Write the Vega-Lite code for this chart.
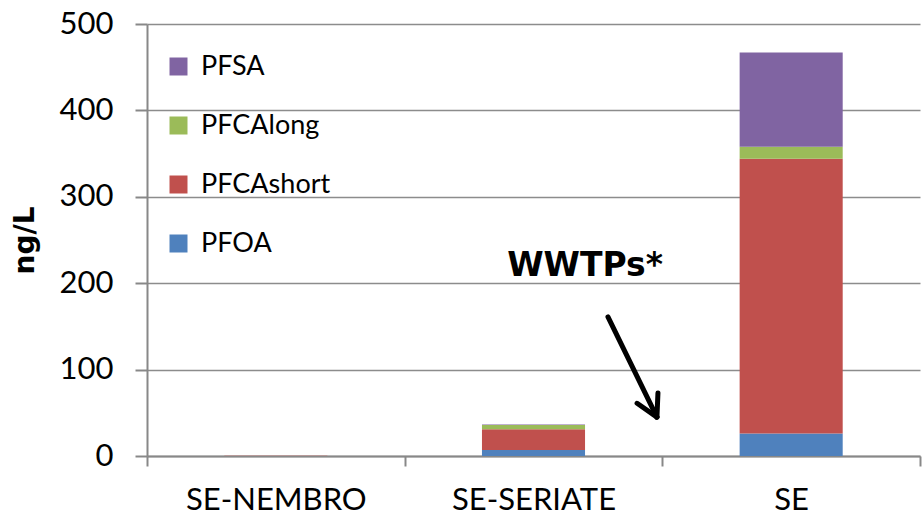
{
  "$schema": "https://vega.github.io/schema/vega-lite/v6.json",
  "width": 773,
  "height": 432,
  "autosize": "none",
  "padding": {"left": 147, "top": 24, "right": 2, "bottom": 65},
  "background": "white",
  "config": {"view": {"stroke": null}},
  "layer": [
    {
      "data": {
        "values": [
          {"site": "SE-NEMBRO", "group": "PFOA", "value": 0.1},
          {"site": "SE-NEMBRO", "group": "PFCAshort", "value": 0.1},
          {"site": "SE-NEMBRO", "group": "PFCAlong", "value": 0},
          {"site": "SE-NEMBRO", "group": "PFSA", "value": 0},
          {"site": "SE-SERIATE", "group": "PFOA", "value": 7},
          {"site": "SE-SERIATE", "group": "PFCAshort", "value": 24},
          {"site": "SE-SERIATE", "group": "PFCAlong", "value": 5},
          {"site": "SE-SERIATE", "group": "PFSA", "value": 0.5},
          {"site": "SE", "group": "PFOA", "value": 26},
          {"site": "SE", "group": "PFCAshort", "value": 318},
          {"site": "SE", "group": "PFCAlong", "value": 14},
          {"site": "SE", "group": "PFSA", "value": 109}
        ]
      },
      "transform": [
        {"calculate": "indexof(['PFOA','PFCAshort','PFCAlong','PFSA'], datum.group)", "as": "stackRank"}
      ],
      "mark": {"type": "bar", "width": {"band": 0.4}},
      "encoding": {
        "x": {
          "field": "site",
          "type": "nominal",
          "sort": null,
          "scale": {"paddingInner": 0, "paddingOuter": 0},
          "axis": {
            "title": null,
            "labelAngle": 0,
            "labelFont": "Lato",
            "labelFontSize": 31,
            "labelColor": "black",
            "labelPadding": 19,
            "labelLimit": 0,
            "tickBand": "extent",
            "tickSize": 10,
            "tickColor": "#888888",
            "tickWidth": 2,
            "domainColor": "#888888",
            "domainWidth": 2,
            "grid": false
          }
        },
        "y": {
          "field": "value",
          "type": "quantitative",
          "stack": "zero",
          "scale": {"domain": [0, 500], "nice": false},
          "axis": {
            "title": "ng/L",
            "titleFont": "DejaVu Sans",
            "titleFontWeight": "bold",
            "titleFontSize": 28,
            "titleColor": "black",
            "titleX": -108,
            "titleY": 216,
            "titleAngle": 270,
            "values": [0, 100, 200, 300, 400, 500],
            "labelFont": "Lato",
            "labelFontSize": 31,
            "labelColor": "black",
            "labelPadding": 22,
            "tickSize": 12,
            "tickColor": "#888888",
            "tickWidth": 2,
            "domainColor": "#888888",
            "domainWidth": 2,
            "grid": true,
            "gridColor": "#8c8c8c",
            "gridWidth": 1.5
          }
        },
        "color": {
          "field": "group",
          "type": "nominal",
          "scale": {
            "domain": ["PFSA", "PFCAlong", "PFCAshort", "PFOA"],
            "range": ["#8064A2", "#9BBB59", "#C0504D", "#4F81BD"]
          },
          "legend": {
            "title": null,
            "orient": "none",
            "legendX": 18,
            "legendY": 29,
            "padding": 0,
            "symbolType": "square",
            "symbolSize": 324,
            "symbolStrokeWidth": 0,
            "labelFont": "Lato",
            "labelFontSize": 27,
            "labelColor": "black",
            "labelOffset": 9,
            "rowPadding": 31
          }
        },
        "order": {"field": "stackRank", "type": "quantitative", "sort": "ascending"}
      }
    },
    {
      "data": {"values": [{}]},
      "mark": {"type": "text", "font": "DejaVu Sans", "fontWeight": "bold", "fontSize": 33, "color": "black", "align": "center", "baseline": "middle"},
      "encoding": {
        "x": {"datum": 1.70, "type": "quantitative", "scale": {"domain": [0, 3], "nice": false, "zero": false}, "axis": null},
        "y": {"datum": 220, "type": "quantitative"},
        "text": {"value": "WWTPs*"}
      }
    },
    {
      "data": {"values": [{}]},
      "mark": {"type": "rule", "color": "black", "strokeWidth": 5, "strokeCap": "round"},
      "encoding": {
        "x": {"datum": 1.789, "type": "quantitative", "scale": {"domain": [0, 3], "nice": false, "zero": false}, "axis": null},
        "y": {"datum": 161, "type": "quantitative"},
        "x2": {"datum": 1.979},
        "y2": {"datum": 45}
      }
    },
    {
      "data": {"values": [{}]},
      "mark": {"type": "rule", "color": "black", "strokeWidth": 5, "strokeCap": "round"},
      "encoding": {
        "x": {"datum": 1.902, "type": "quantitative", "scale": {"domain": [0, 3], "nice": false, "zero": false}, "axis": null},
        "y": {"datum": 61, "type": "quantitative"},
        "x2": {"datum": 1.979},
        "y2": {"datum": 45}
      }
    },
    {
      "data": {"values": [{}]},
      "mark": {"type": "rule", "color": "black", "strokeWidth": 5, "strokeCap": "round"},
      "encoding": {
        "x": {"datum": 1.983, "type": "quantitative", "scale": {"domain": [0, 3], "nice": false, "zero": false}, "axis": null},
        "y": {"datum": 73, "type": "quantitative"},
        "x2": {"datum": 1.979},
        "y2": {"datum": 45}
      }
    }
  ],
  "resolve": {"scale": {"x": "independent"}}
}
